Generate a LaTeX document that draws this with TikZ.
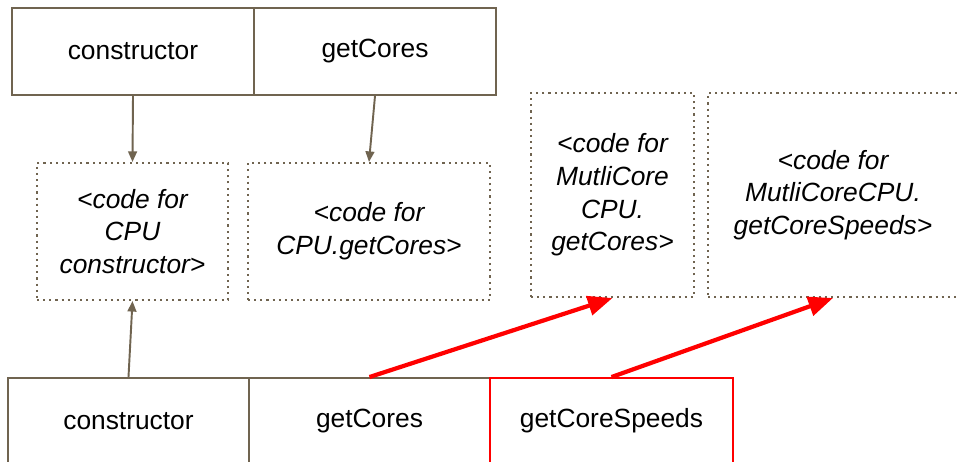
\documentclass[tikz,border=0pt]{standalone}
\usepackage{fontspec}
\setmainfont{Liberation Sans}
\usetikzlibrary{arrows.meta}
\definecolor{umber}{RGB}{112,100,80}

\begin{document}
\begin{tikzpicture}
  [x=0.02cm,y=-0.02cm,
  box/.style={draw=umber,line width=1.1pt,inner sep=0pt,minimum width=4.84cm,minimum height=1.74cm,font=\fontsize{15}{18}\selectfont},
  redbox/.style={box,draw=red},
  codebox/.style={draw=umber,line width=1.2pt,dash pattern=on 1.2pt off 2.3pt,inner sep=0pt,align=center,minimum height=2.74cm,font=\fontsize{15}{18.6}\selectfont\itshape},
  link/.style={draw=umber,line width=1.1pt,-{Triangle[length=6pt,width=5pt]}},
  redlink/.style={draw=red,line width=2.4pt,-{Triangle[length=14pt,width=11pt]}}]
  \clip (0,0) rectangle (957,462);
  \fill[white] (0,0) rectangle (957,462);

  % class CPU
  \node[box] (ctor) at (133,51.5) {constructor};
  \node[box] (getc) at (375,51.5) {getCores};

  % code blocks
  \node[codebox,minimum width=3.82cm] (codector) at (132.5,231.5) {<code for\\CPU\\constructor>};
  \node[codebox,minimum width=4.84cm] (codegetc) at (369,231.5) {<code for\\CPU.getCores>};
  \node[codebox,minimum width=3.26cm,minimum height=4.08cm] (codemc) at (612.5,195) {<code for\\MutliCore\\CPU.\\getCores>};
  \node[codebox,minimum width=5cm,minimum height=4.08cm] (codemcs) at (833,195) {<code for\\MutliCoreCPU.\\getCoreSpeeds>};

  % class MultiCoreCPU
  \node[box,minimum width=4.82cm,minimum height=1.72cm] (bctor) at (128.5,421) {constructor};
  \node[box,minimum width=4.82cm,minimum height=1.72cm] (bgetc) at (369.5,421) {getCores};
  \node[redbox,minimum width=4.86cm,minimum height=1.72cm] (bspeeds) at (611.5,421) {getCoreSpeeds};

  \draw[link] (ctor.south) -- (codector.north);
  \draw[link] (getc.south) -- (codegetc.north);
  \draw[link] (bctor.north) -- (codector.south);

  \draw[redlink] (bgetc.north) -- (codemc.south);
  \draw[redlink] (bspeeds.north) -- (codemcs.south);
\end{tikzpicture}
\end{document}
